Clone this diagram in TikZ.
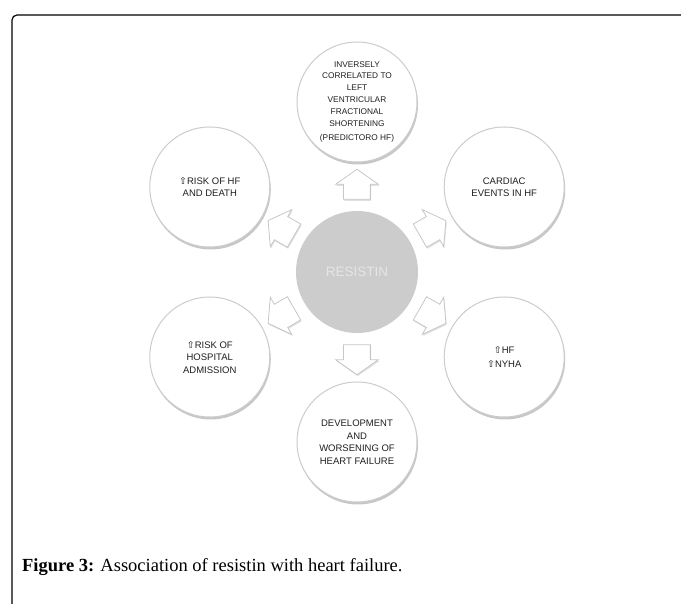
\documentclass[tikz,border=0pt]{standalone}
\usepackage{fontspec}
\setmainfont{Liberation Serif}
\newfontfamily\circfont{Liberation Sans}
\newfontfamily\symfont{DejaVu Sans}
\usetikzlibrary{shapes.arrows,shadows,positioning}

\newcommand{\upmark}{{\symfont\char"21E7}}

\begin{document}
\begin{tikzpicture}
[x=1pt,y=1pt,
bubble/.style={circle,draw=black!20,line width=1pt,fill=white,minimum size=120pt,inner sep=0pt,align=center,
  font=\circfont\fontsize{9.5}{12.5}\selectfont,text=black!88,
  drop shadow={shadow xshift=1pt,shadow yshift=-2.5pt,fill=black,opacity=.22}},
core/.style={circle,fill=black!20,minimum size=122pt,inner sep=0pt,font=\circfont\fontsize{13.5}{15}\selectfont,text=white!90!black},
blockarrow/.style={single arrow,draw=black!22,fill=white,line width=.8pt,minimum height=30pt,inner sep=0pt,inner ysep=13pt,
  single arrow head extend=8pt,single arrow tip angle=110,
  drop shadow={shadow xshift=.8pt,shadow yshift=-1.5pt,fill=black,opacity=.12}}]

\useasboundingbox (-357,-332) rectangle (324,272);

% frame
\draw[line width=1.2pt,rounded corners=5pt] (-345,-332) -- (-345,257) -- (324,257);

\node[core] (res) at (0,0) {RESISTIN};

% outer circles
\node[bubble,font=\circfont\fontsize{8.3}{11.8}\selectfont] (lvfs) at (90:170)
  {INVERSELY\\CORRELATED TO\\LEFT\\VENTRICULAR\\FRACTIONAL\\SHORTENING\\[3pt](PREDICTORO HF)};
\node[bubble] (card) at (30:170) {CARDIAC\\EVENTS IN HF};
\node[bubble] (nyha) at (-30:170) {\upmark HF\\[2pt]\upmark NYHA};
\node[bubble] (dev) at (-90:170) {DEVELOPMENT\\AND\\WORSENING OF\\HEART FAILURE};
\node[bubble] (hosp) at (210:170) {\upmark RISK OF\\HOSPITAL\\ADMISSION};
\node[bubble] (death) at (150:170) {\upmark RISK OF HF\\AND DEATH};

% arrows
\foreach \a/\n in {90/a1,30/a2,-30/a3,-90/a4,210/a5,150/a6}
  \node[blockarrow,rotate=\a] (\n) at (\a:83) {};

% caption
\node[anchor=base west,inner sep=0pt,font=\fontsize{18.5}{20}\selectfont] (cap) at (-335,-300)
  {\textbf{Figure 3:} Association of resistin with heart failure.};
\end{tikzpicture}
\end{document}
